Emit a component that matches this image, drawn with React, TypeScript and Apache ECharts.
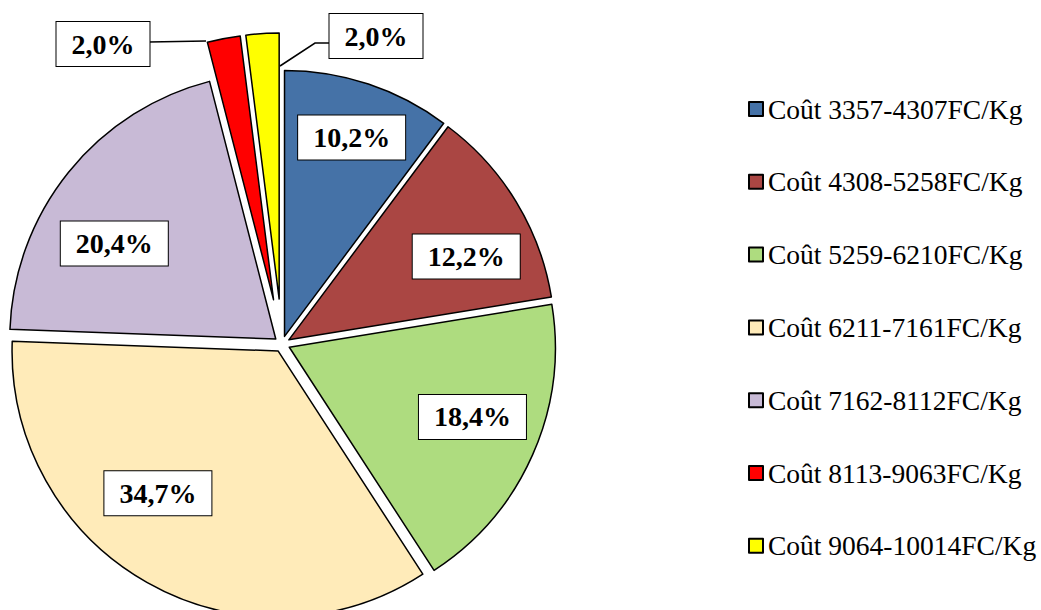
import React, { useEffect, useRef } from "react";
import * as echarts from "echarts";

const categories = [
  "Coût 3357-4307FC/Kg",
  "Coût 4308-5258FC/Kg",
  "Coût 5259-6210FC/Kg",
  "Coût 6211-7161FC/Kg",
  "Coût 7162-8112FC/Kg",
  "Coût 8113-9063FC/Kg",
  "Coût 9064-10014FC/Kg",
];
const percents = [10.2, 12.2, 18.4, 34.7, 20.4, 2.0, 2.0];
const colors = ["#4572A7", "#AA4643", "#AEDC7F", "#FFEBB9", "#C8BAD6", "#FF0000", "#FFFF00"];
const pulledOut = [false, false, false, false, false, true, true];

export default function App() {
  const ref = useRef<HTMLDivElement>(null);
  useEffect(() => {
    if (!ref.current) return;
    const chart = echarts.init(ref.current, null, { renderer: "svg" });
    const font = "'Liberation Serif', 'Times New Roman', serif";
    const center = [282, 344];
    const R = 266;
    const fmtNum = (v: number) => v.toFixed(1).replace(".", ",") + "%";
    const hidden = { color: "transparent", borderWidth: 0 };
    const boxLabel = {
      fontFamily: font,
      fontSize: 28,
      fontWeight: "bold",
      color: "#000",
      backgroundColor: "#fff",
      borderColor: "#000",
      borderWidth: 1,
      padding: [9, 15, 7, 15],
      formatter: (p: any) => fmtNum(p.value),
    };
    // label nudges (layout only)
    const nudges: Record<number, [number, number]> = {
      0: [5, -12],
      1: [9, 19],
      2: [3, -10],
      3: [-23, -29],
      4: [-8, 28],
    };
    const smallLabels = [
      { idx: 5, x: 103, y: 44, line: [[149, 42], [206, 41]] },
      { idx: 6, x: 376, y: 36, line: [[331, 43], [315, 43], [280, 66]] },
    ];

    const makeData = (show: (i: number) => boolean, withLabel: (i: number) => boolean) =>
      categories.map((name, i) => ({
        name,
        value: percents[i],
        selected: true,
        itemStyle: show(i)
          ? { color: colors[i], borderColor: "#000", borderWidth: 1.5 }
          : hidden,
        label: { show: withLabel(i) },
        labelLine: { show: false },
      }));

    const graphic: any[] = [];
    smallLabels.forEach((s) => {
      graphic.push({
        type: "polyline",
        shape: { points: s.line },
        style: { stroke: "#000", lineWidth: 1.5, fill: null },
        z: 10,
      });
      graphic.push({
        type: "text",
        x: s.x,
        y: s.y,
        z: 11,
        style: {
          text: fmtNum(percents[s.idx]),
          font: `bold 28px ${font}`,
          fill: "#000",
          align: "center",
          verticalAlign: "middle",
          backgroundColor: "#fff",
          borderColor: "#000",
          borderWidth: 1,
          padding: [9, 15, 7, 15],
        },
      });
    });

    chart.setOption({
      animation: false,
      graphic,
      legend: {
        orient: "vertical",
        left: 748,
        top: 94,
        padding: 0,
        itemWidth: 14,
        itemHeight: 14,
        itemGap: 42.8,
        selectedMode: false,
        textStyle: { fontFamily: font, fontSize: 27.5, color: "#000", lineHeight: 30 },
        data: categories.map((name, i) => ({
          name,
          icon: "rect",
          itemStyle: { color: colors[i], borderColor: "#000", borderWidth: 2 },
        })),
      },
      series: [
        {
          type: "pie",
          center,
          radius: [0, R],
          startAngle: 90,
          selectedMode: "multiple",
          selectedOffset: 8,
          avoidLabelOverlap: false,
          emphasis: { disabled: true },
          silent: true,
          label: { show: false },
          labelLine: { show: false },
          data: makeData((i) => !pulledOut[i], () => false),
        },
        {
          type: "pie",
          center,
          radius: [0, R],
          startAngle: 90,
          selectedMode: "multiple",
          selectedOffset: 45,
          avoidLabelOverlap: false,
          emphasis: { disabled: true },
          silent: true,
          label: { show: false },
          labelLine: { show: false },
          data: makeData((i) => pulledOut[i], () => false),
        },
        {
          type: "pie",
          center,
          radius: [0, 404],
          startAngle: 90,
          avoidLabelOverlap: false,
          emphasis: { disabled: true },
          silent: true,
          label: { ...boxLabel, position: "inside" },
          labelLine: { show: false },
          labelLayout: (p: any) => {
            const n = nudges[p.dataIndex];
            return n ? { dx: n[0], dy: n[1] } : {};
          },
          data: makeData(() => false, (i) => !pulledOut[i]),
        },
      ],
    });
    return () => chart.dispose();
  }, []);
  return (
    <div
      ref={ref}
      style={{ position: "fixed", left: 0, top: 0, width: 1041, height: 610, background: "#fff" }}
    />
  );
}
